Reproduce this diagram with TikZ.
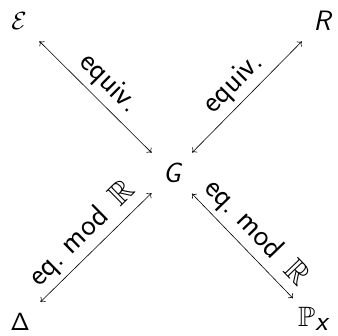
\documentclass[tikz,border=0pt]{standalone}
\usepackage{amssymb}
\usetikzlibrary{arrows.meta}
\begin{document}
\begin{tikzpicture}[x=1pt,y=-1pt,
  obj/.style={circle,minimum size=57pt,inner sep=0pt,font=\fontsize{28}{32}\selectfont\sffamily},
  lbl/.style={sloped,above,inner sep=5pt,font=\fontsize{31}{36}\selectfont\sffamily},
  dbl/.style={line width=0.6pt,{To[length=4pt,width=7pt]}-{To[length=4pt,width=7pt]}}]
\useasboundingbox (0,0) rectangle (338,336);
\node[obj] (E) at (19,21) {$\mathcal{E}$};
\node[obj] (R) at (322,21) {\itshape R};
\node[obj] (G) at (172,173) {\itshape G};
\node[obj] (D) at (20,322) {$\mathsf{\Delta}$};
\node[obj] (P) at (313,319) {$\mathbb{P}_{\textsf{\itshape x}}$};
\draw[dbl] (E) -- node[lbl] {equiv.} (G);
\draw[dbl] (G) -- node[lbl] {equiv.} (R);
\draw[dbl] (D) -- node[lbl] {eq.\ mod\, $\mathbb{R}$} (G);
\draw[dbl] (G) -- node[lbl] {eq.\ mod\, $\mathbb{R}$} (P);
\end{tikzpicture}
\end{document}
